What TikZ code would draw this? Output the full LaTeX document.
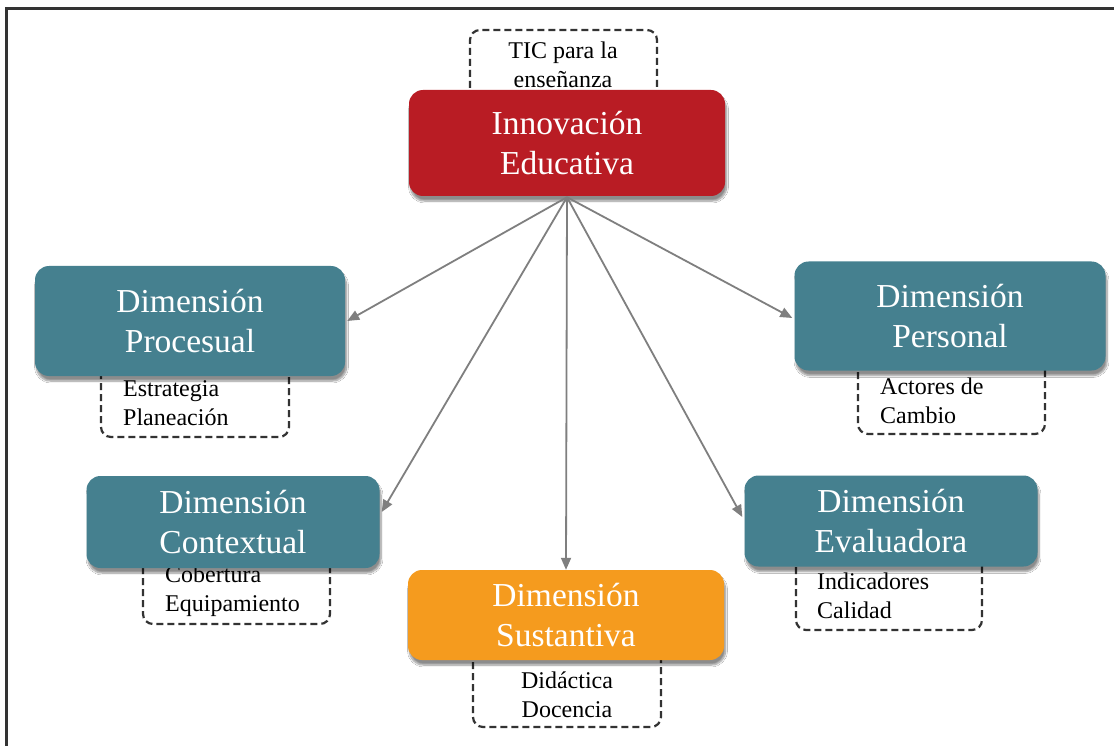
\documentclass[tikz,border=0pt]{standalone}
\usepackage{fontspec}
\setmainfont{Liberation Serif}
\usetikzlibrary{shadows.blur,arrows.meta}
\definecolor{innred}{HTML}{B91C24}
\definecolor{dimteal}{HTML}{45808F}
\definecolor{dimorange}{HTML}{F59B1E}
\definecolor{arrowgray}{HTML}{7F7F7F}
\definecolor{dashgray}{HTML}{333333}
\tikzset{
  mainbox/.style={rounded corners=14pt, align=center, text=white, inner sep=0pt,
    font=\fontsize{33.5}{40}\selectfont,
    blur shadow={shadow blur steps=8, shadow blur extra rounding=2pt, shadow xshift=1.5pt, shadow yshift=-5pt, shadow opacity=45}},
  dashbox/.style={draw=dashgray, line width=2.2pt, dash pattern=on 7pt off 4pt, rounded corners=10pt},
  smalltext/.style={font=\fontsize{24}{29}\selectfont, inner sep=0pt},
  conn/.style={draw=arrowgray, line width=1.8pt, -{Triangle[length=12pt,width=10pt]}}
}
\begin{document}
\begin{tikzpicture}[x=1pt,y=-1pt]
\useasboundingbox (0,0) rectangle (1114,746);
\fill[white] (0,0) rectangle (1114,746);
\draw[dashgray, line width=3pt] (6,746) -- (6,9) -- (1114,9);

% dashed boxes
\draw[dashbox] (470,110) -- (470,30) -- (657,30) -- (657,110);
\node[smalltext, align=center] (tic) at (563,65) {TIC para la\\enseñanza};

\draw[dashbox] (101,350) -- (101,437) -- (289,437) -- (289,350);
\node[smalltext, align=left, anchor=west] (proc-t) at (123,403) {Estrategia\\Planeación};

\draw[dashbox] (858,350) -- (858,434) -- (1045,434) -- (1045,350);
\node[smalltext, align=left, anchor=west] (pers-t) at (880,401) {Actores de\\Cambio};

\draw[dashbox] (143,545) -- (143,624) -- (330,624) -- (330,545);
\node[smalltext, align=left, anchor=west] (cont-t) at (165,591) {Cobertura\\Equipamiento};

\draw[dashbox] (473,640) -- (473,727) -- (661,727) -- (661,640);
\node[smalltext, align=center] (sust-t) at (567,695) {Didáctica\\Docencia};

\draw[dashbox] (796,545) -- (796,630) -- (982,630) -- (982,545);
\node[smalltext, align=left, anchor=west] (eval-t) at (817,596) {Indicadores\\Calidad};

% main boxes
\node[mainbox, fill=innred, minimum width=316pt, minimum height=106pt] (innov) at (567,143) {Innovación\\Educativa};
\node[mainbox, fill=dimteal, minimum width=310pt, minimum height=110pt] (proc) at (190,321) {Dimensión\\Procesual};
\node[mainbox, fill=dimteal, minimum width=311pt, minimum height=109pt] (pers) at (950,316) {Dimensión\\Personal};
\node[mainbox, fill=dimteal, minimum width=293pt, minimum height=92pt] (cont) at (233,522) {Dimensión\\Contextual};
\node[mainbox, fill=dimorange, minimum width=316pt, minimum height=90pt] (sust) at (566,615) {Dimensión\\Sustantiva};
\node[mainbox, fill=dimteal, minimum width=293pt, minimum height=91pt] (eval) at (891,521) {Dimensión\\Evaluadora};

% connectors
\draw[conn] ([yshift=-1pt]innov.south) -- ([xshift=2pt]proc.east);
\draw[conn] ([yshift=-1pt]innov.south) -- ([xshift=2pt,yshift=10pt]cont.east);
\draw[conn] ([yshift=-1pt]innov.south) -- (sust.north);
\draw[conn] ([yshift=-1pt]innov.south) -- ([xshift=-2pt,yshift=4pt]eval.west);
\draw[conn] ([yshift=-1pt]innov.south) -- ([xshift=-2pt,yshift=-2pt]pers.west);
\end{tikzpicture}
\end{document}
